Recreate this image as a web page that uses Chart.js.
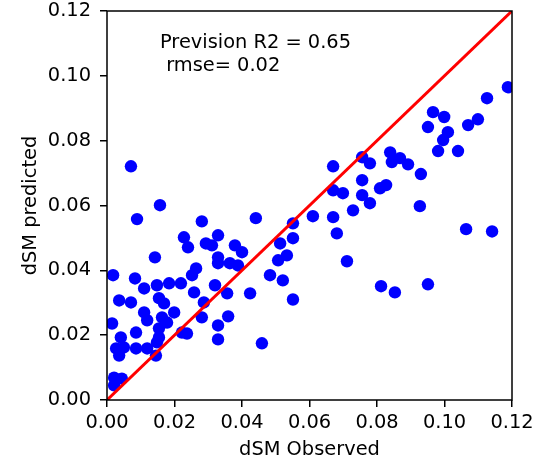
<!DOCTYPE html>
<html>
<head>
<meta charset="utf-8">
<script src="https://cdn.jsdelivr.net/npm/chart.js@4.4.1/dist/chart.umd.min.js"></script>
<style>
  html, body { margin: 0; padding: 0; background: #fff; }
  #c { display: block; }
</style>
</head>
<body>
<canvas id="c" width="533" height="462"></canvas>
<script>
'use strict';

/* observed vs predicted dSM */
var xObserved = [
  0.0071, 0.0089, 0.0157, 0.0281, 0.0228, 0.0240, 0.0142, 0.0293, 0.0311, 0.0329,
  0.0441, 0.0379, 0.0400, 0.0329, 0.0329, 0.0364, 0.0388, 0.0264, 0.0018, 0.0083,
  0.0110, 0.0148, 0.0184, 0.0219, 0.0258, 0.0036, 0.0071, 0.0154, 0.0169, 0.0287,
  0.0110, 0.0119, 0.0163, 0.0199, 0.0178, 0.0154, 0.0015, 0.0086, 0.0041, 0.0027,
  0.0050, 0.0086, 0.0119, 0.0154, 0.0148, 0.0222, 0.0237, 0.0145, 0.0036, 0.0021,
  0.0044, 0.0021, 0.0281, 0.0252, 0.0320, 0.0356, 0.0424, 0.0359, 0.0329, 0.0329,
  0.0459, 0.0483, 0.0521, 0.0551, 0.0513, 0.0533, 0.0507, 0.0551, 0.0551, 0.0610,
  0.0670, 0.0756, 0.0779, 0.0839, 0.0844, 0.0868, 0.0892, 0.0930, 0.0756, 0.0809,
  0.0827, 0.0670, 0.0699, 0.0756, 0.0779, 0.0729, 0.0670, 0.0681, 0.0711, 0.0812,
  0.0853, 0.0951, 0.0927, 0.1064, 0.1141, 0.1188, 0.1126, 0.0966, 0.0999, 0.0951,
  0.1099, 0.1070, 0.1010, 0.0996, 0.0981, 0.1040
];
var yPredicted = [
  0.0721, 0.0558, 0.0601, 0.0551, 0.0502, 0.0471, 0.0440, 0.0483, 0.0477, 0.0508,
  0.0561, 0.0477, 0.0456, 0.0440, 0.0422, 0.0422, 0.0415, 0.0406, 0.0385, 0.0375,
  0.0344, 0.0354, 0.0360, 0.0360, 0.0332, 0.0307, 0.0301, 0.0314, 0.0298, 0.0301,
  0.0270, 0.0246, 0.0255, 0.0270, 0.0239, 0.0221, 0.0236, 0.0208, 0.0193, 0.0159,
  0.0162, 0.0159, 0.0159, 0.0193, 0.0178, 0.0208, 0.0205, 0.0137, 0.0137, 0.0069,
  0.0066, 0.0045, 0.0255, 0.0385, 0.0354, 0.0329, 0.0329, 0.0258, 0.0230, 0.0187,
  0.0175, 0.0385, 0.0369, 0.0310, 0.0483, 0.0446, 0.0431, 0.0545, 0.0499, 0.0567,
  0.0721, 0.0749, 0.0730, 0.0764, 0.0734, 0.0746, 0.0727, 0.0697, 0.0678, 0.0653,
  0.0663, 0.0647, 0.0638, 0.0632, 0.0607, 0.0585, 0.0564, 0.0514, 0.0428, 0.0351,
  0.0332, 0.0357, 0.0598, 0.0527, 0.0520, 0.0965, 0.0931, 0.0888, 0.0873, 0.0842,
  0.0866, 0.0848, 0.0826, 0.0802, 0.0768, 0.0768
];

// 1:1 reference line
var idealX = [0, 0.12];
var idealY = [0, 0.12];

var axisMin = 0, axisMax = 0.12, axisStep = 0.02;
var noteLines = ['Prevision R2 = 0.65', ' rmse= 0.02'];

var FONT = 'DejaVu Sans';
var FS = 19.4;

function pairs(xs, ys) {
  return xs.map(function (x, i) { return { x: x, y: ys[i] }; });
}

/* matplotlib style box + text note */
var boxPlugin = {
  id: 'box',
  afterDatasetsDraw: function (chart) {
    var a = chart.chartArea, ctx = chart.ctx;
    ctx.save();
    ctx.strokeStyle = '#000';
    ctx.lineWidth = 1.5;
    ctx.strokeRect(a.left, a.top, a.right - a.left, a.bottom - a.top);
    ctx.restore();
  },
  afterDraw: function (chart) {
    var ctx = chart.ctx;
    var xs = chart.scales.x, ys = chart.scales.y;
    var px = xs.getPixelForValue(0.0157);
    var py = ys.getPixelForValue(0.1086);
    ctx.save();
    ctx.fillStyle = '#000';
    ctx.font = FS + 'px "' + FONT + '"';
    ctx.textAlign = 'left';
    ctx.textBaseline = 'alphabetic';
    noteLines.forEach(function (t, i) {
      ctx.fillText(t, px, py + i * 23.3);
    });
    ctx.restore();
  }
};

function axisOpts(title, isY) {
  return {
    type: 'linear',
    min: axisMin,
    max: axisMax,
    border: { display: false },
    grid: {
      display: true,
      drawOnChartArea: false,
      drawTicks: true,
      tickLength: 7,
      color: '#000',
      lineWidth: 1.5
    },
    ticks: {
      stepSize: axisStep,
      color: '#000',
      padding: isY ? 9 : 4,
      font: { family: FONT, size: FS },
      callback: function (v) { return Number(v).toFixed(2); }
    },
    title: {
      display: true,
      text: title,
      color: '#000',
      font: { family: FONT, size: FS },
      padding: isY ? { top: 19, bottom: 0 } : { top: 0, bottom: 0 }
    },
    afterFit: function (s) {
      if (isY) s.width = 107; else s.height = 62;
      // let labels overhang like matplotlib does, keep the box fixed
      s.paddingTop = 0; s.paddingBottom = 0;
      s.paddingLeft = 0; s.paddingRight = 0;
    }
  };
}

new Chart(document.getElementById('c').getContext('2d'), {
  type: 'scatter',
  data: {
    datasets: [
      {
        type: 'line',
        label: '1:1',
        data: pairs(idealX, idealY),
        borderColor: '#ff0000',
        borderWidth: 3,
        pointRadius: 0,
        fill: false,
        clip: 0,
        order: 0
      },
      {
        label: 'dSM',
        data: pairs(xObserved, yPredicted),
        backgroundColor: '#0000ff',
        borderWidth: 0,
        pointRadius: 6.2,
        clip: 0,
        order: 1
      }
    ]
  },
  options: {
    responsive: false,
    animation: false,
    events: [],
    layout: { padding: { left: 0, right: 21, top: 11, bottom: 0 } },
    plugins: {
      legend: { display: false },
      tooltip: { enabled: false },
      title: { display: false }
    },
    scales: {
      x: axisOpts('dSM Observed', false),
      y: axisOpts('dSM predicted', true)
    }
  },
  plugins: [boxPlugin]
});
</script>
</body>
</html>
